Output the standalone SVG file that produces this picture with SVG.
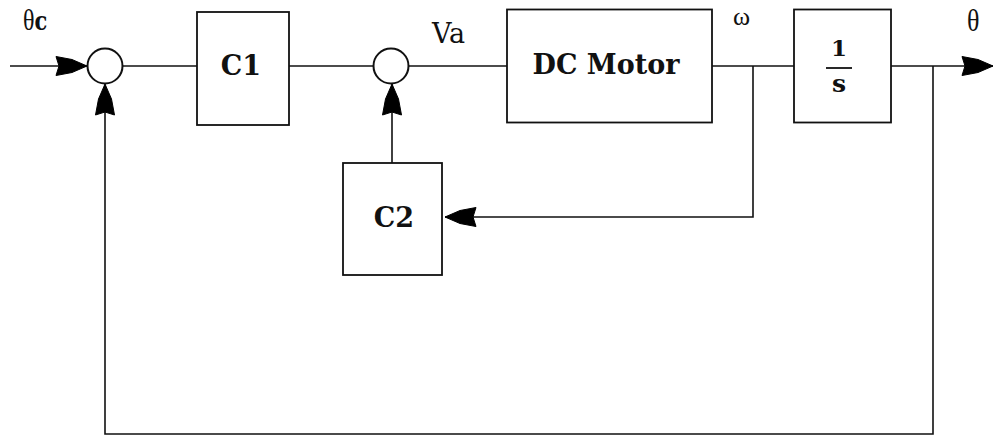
<svg xmlns="http://www.w3.org/2000/svg" width="994" height="436" viewBox="0 0 994 436">
<style>
.box{fill:#fff;stroke:#111;stroke-width:1.8}
.sum{fill:#fff;stroke:#111;stroke-width:2}
.wire{fill:none;stroke:#111;stroke-width:1.6}
.bt{font-family:"DejaVu Serif","Liberation Serif",serif;font-weight:bold;fill:#111;text-anchor:middle}
.lt{font-family:"Liberation Serif","DejaVu Serif",serif;fill:#111}
.ls{font-family:"DejaVu Serif","Liberation Serif",serif;fill:#111}
</style>
<defs>
<marker id="ah" markerUnits="userSpaceOnUse" viewBox="-32 -11 33 22" refX="0" refY="0" markerWidth="33" markerHeight="22" orient="auto" overflow="visible">
<path d="M0,0 L-15,-6.5 L-31,-9.5 L-28,0 L-31,9.5 L-15,6.5 Z" fill="#000" stroke="#000" stroke-width="1" stroke-linejoin="round"/>
</marker>
</defs>
<g id="connectors">
<path class="wire" d="M10,66 H87" marker-end="url(#ah)"/>
<path class="wire" d="M122.5,66 H197"/>
<path class="wire" d="M289,66 H373.5"/>
<path class="wire" d="M408.5,66 H507"/>
<path class="wire" d="M712,66 H794"/>
<path class="wire" d="M891,66 H993" marker-end="url(#ah)"/>
<path class="wire" d="M753,66 V217 H445" marker-end="url(#ah)"/>
<path class="wire" d="M392,163 V84" marker-end="url(#ah)"/>
<path class="wire" d="M933,66 V434 H105 V84" marker-end="url(#ah)"/>
</g>
<g id="sum1"><circle class="sum" cx="105" cy="66" r="17.5"/></g>
<g id="sum2"><circle class="sum" cx="391" cy="66" r="17.5"/></g>
<g id="C1"><rect class="box" x="197" y="12" width="92" height="113"/><text class="bt" x="241" y="75" font-size="27">C1</text></g>
<g id="DCMotor"><rect class="box" x="507" y="9.5" width="205" height="113"/><text class="bt" x="606" y="74" font-size="27">DC Motor</text></g>
<g id="integrator"><rect class="box" x="794" y="9.5" width="97" height="113"/><text class="bt" x="839" y="56" font-size="23">1</text><line x1="826" y1="68" x2="852" y2="68" stroke="#111" stroke-width="1.8"/><text class="bt" x="839" y="92" font-size="25">s</text></g>
<g id="C2"><rect class="box" x="343" y="163" width="99" height="112"/><text class="bt" x="394" y="227" font-size="27">C2</text></g>
<g id="labels">
<text class="lt" transform="translate(23,30) scale(1,1.25)" font-size="24">θ<tspan class="ls" font-weight="bold" font-size="21">c</tspan></text>
<text class="ls" x="432" y="43" font-size="27">Va</text>
<text class="lt" x="733" y="25" font-size="26">ω</text>
<text class="lt" transform="translate(967,31) scale(1,1.25)" font-size="26">θ</text>
</g>
</svg>
